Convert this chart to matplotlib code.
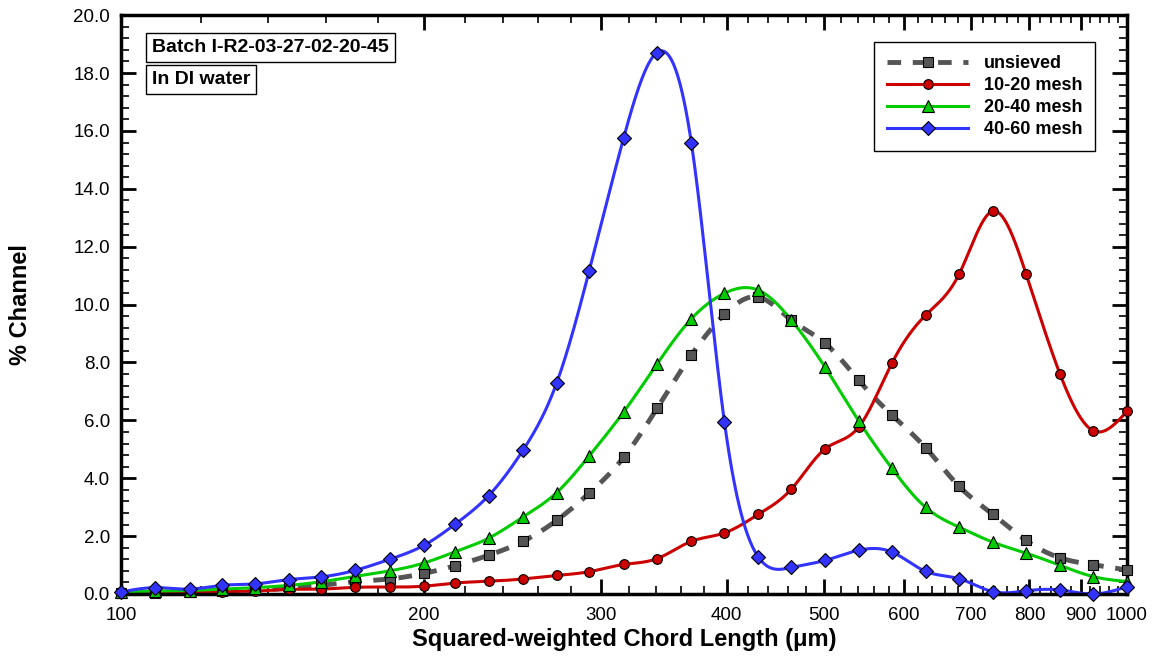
import numpy as np
import matplotlib.pyplot as plt
from matplotlib.ticker import FixedLocator, FormatStrFormatter, MultipleLocator, NullFormatter

plt.rcParams['font.family'] = ['Liberation Sans', 'DejaVu Sans']

# chord length bins: 30 per decade, 100..1000 um
chord = [100, 108, 117, 126, 136, 147, 158, 171, 185, 200,
         215, 232, 251, 271, 292, 316, 341, 369, 398, 430,
         464, 501, 541, 584, 631, 681, 736, 794, 858, 926, 1000]

unsieved = [0.03, 0.05, 0.07, 0.10, 0.13, 0.20, 0.30, 0.43, 0.52, 0.71,
            0.98, 1.34, 1.82, 2.54, 3.48, 4.72, 6.41, 8.26, 9.66, 10.26,
            9.46, 8.67, 7.39, 6.18, 5.05, 3.72, 2.75, 1.85, 1.25, 1.01, 0.83]
mesh_10_20 = [0.05, 0.05, 0.06, 0.08, 0.10, 0.16, 0.17, 0.23, 0.24, 0.27,
              0.38, 0.44, 0.52, 0.64, 0.77, 1.02, 1.22, 1.82, 2.11, 2.75,
              3.63, 5.01, 5.76, 7.98, 9.64, 11.05, 13.23, 11.05, 7.60, 5.64, 6.31]
mesh_20_40 = [0.08, 0.10, 0.12, 0.17, 0.22, 0.30, 0.42, 0.61, 0.80, 1.07,
              1.46, 1.93, 2.66, 3.50, 4.77, 6.29, 7.94, 9.51, 10.39, 10.50,
              9.46, 7.84, 5.99, 4.34, 2.99, 2.31, 1.79, 1.41, 0.99, 0.60, 0.43]
mesh_40_60 = [0.07, 0.22, 0.17, 0.30, 0.35, 0.50, 0.59, 0.82, 1.20, 1.68,
              2.42, 3.40, 4.97, 7.28, 11.16, 15.76, 18.71, 15.58, 5.94, 1.28,
              0.92, 1.16, 1.51, 1.45, 0.78, 0.53, 0.08, 0.11, 0.14, 0.00, 0.25]

series = [
    ("unsieved", unsieved, "#555555", "s", "--", 3.5),
    ("10-20 mesh", mesh_10_20, "#cc0000", "o", "-", 2.2),
    ("20-40 mesh", mesh_20_40, "#00cc00", "^", "-", 2.2),
    ("40-60 mesh", mesh_40_60, "#3333ff", "D", "-", 2.2),
]
MARKER_SIZE = {"s": 6.5, "o": 7, "^": 8, "D": 7.5}
DASH = (2.8, 2.4)


def natural_spline(x, y, xs):
    # natural cubic spline through (x, y), evaluated at xs
    x = np.asarray(x, float)
    y = np.asarray(y, float)
    n = len(x)
    h = np.diff(x)
    A = np.zeros((n, n))
    b = np.zeros(n)
    A[0, 0] = A[-1, -1] = 1.0
    for i in range(1, n - 1):
        A[i, i - 1] = h[i - 1]
        A[i, i] = 2 * (h[i - 1] + h[i])
        A[i, i + 1] = h[i]
        b[i] = 6 * ((y[i + 1] - y[i]) / h[i] - (y[i] - y[i - 1]) / h[i - 1])
    M = np.linalg.solve(A, b)
    k = np.clip(np.searchsorted(x, xs) - 1, 0, n - 2)
    t0 = x[k + 1] - xs
    t1 = xs - x[k]
    hk = h[k]
    return (M[k] * t0 ** 3 / (6 * hk) + M[k + 1] * t1 ** 3 / (6 * hk)
            + (y[k] / hk - M[k] * hk / 6) * t0
            + (y[k + 1] / hk - M[k + 1] * hk / 6) * t1)


fig = plt.figure(figsize=(11.57, 6.6), dpi=100)
ax = fig.add_axes([0.1046, 0.1, 0.8694, 0.877])

u = np.log10(chord)
us = np.linspace(u[0], u[-1], 1500)

for label, vals, color, marker, ls, lw in series:
    ys = natural_spline(u, vals, us)
    line, = ax.plot(10 ** us, ys, color=color, lw=lw, ls=ls, zorder=2)
    if ls == "--":
        line.set_dashes(DASH)
    ms = MARKER_SIZE[marker]
    ax.plot(chord, vals, ls="none", marker=marker, ms=ms,
            mfc=color, mec="black", mew=0.8, zorder=3, clip_on=False)
    # legend proxy
    proxy, = ax.plot([], [], color=color, lw=lw, ls=ls, marker=marker, ms=ms,
                     mfc=color, mec="black", mew=0.8, label=label)
    if ls == "--":
        proxy.set_dashes(DASH)

ax.set_xscale("log")
ax.set_xlim(100, 1000)
ax.set_ylim(0, 20)

major_x = [100, 200, 300, 400, 500, 600, 700, 800, 900, 1000]
minor_x = [v for v in range(120, 1000, 20) if v % 100 != 0]
ax.xaxis.set_major_locator(FixedLocator(major_x))
ax.xaxis.set_minor_locator(FixedLocator(minor_x))
ax.xaxis.set_major_formatter(FormatStrFormatter("%d"))
ax.xaxis.set_minor_formatter(NullFormatter())
ax.yaxis.set_major_locator(MultipleLocator(2))
ax.yaxis.set_minor_locator(MultipleLocator(0.4))
ax.yaxis.set_major_formatter(FormatStrFormatter("%.1f"))

ax.tick_params(which="both", direction="in", top=True, right=True, labelsize=13.5)
ax.tick_params(which="major", length=11, width=2)
ax.tick_params(which="minor", length=6, width=1.2)
ax.tick_params(axis="x", pad=9)
ax.tick_params(axis="y", pad=8)
for sp in ax.spines.values():
    sp.set_linewidth(2.5)

ax.set_xlabel("Squared-weighted Chord Length (\u03bcm)", fontsize=17, fontweight="bold")
ax.set_ylabel("% Channel", fontsize=17, fontweight="bold")
ax.xaxis.set_label_coords(0.5, -0.058)
ax.xaxis.label.set_va("top")
ax.yaxis.set_label_coords(-0.0885, 0.5)

box = dict(boxstyle="square,pad=0.3", fc="white", ec="black", lw=1)
ax.text(0.031, 0.944, "Batch I-R2-03-27-02-20-45", transform=ax.transAxes,
        fontsize=14, fontweight="bold", va="center", ha="left", bbox=box)
ax.text(0.031, 0.889, "In DI water", transform=ax.transAxes,
        fontsize=14, fontweight="bold", va="center", ha="left", bbox=box)

leg = ax.legend(loc="upper right", bbox_to_anchor=(0.968, 0.953), borderaxespad=0,
                fancybox=False, framealpha=1, edgecolor="black",
                prop={"weight": "bold", "size": 13},
                handlelength=4.5, borderpad=0.7, labelspacing=0.28, handletextpad=0.85)
leg.get_frame().set_linewidth(1)

fig.savefig("out.png", dpi=100)
